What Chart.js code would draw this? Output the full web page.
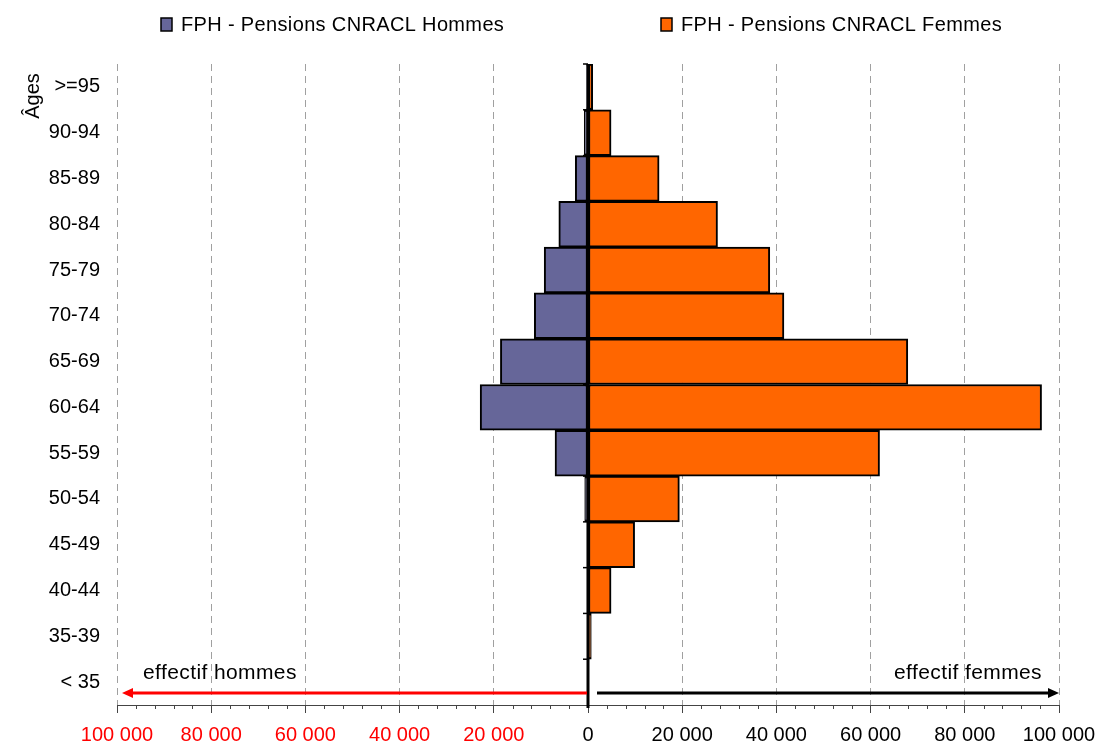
<!DOCTYPE html>
<html>
<head>
<meta charset="utf-8">
<script src="https://cdn.jsdelivr.net/npm/chart.js@4/dist/chart.umd.min.js"></script>
<style>
  body{margin:0;background:#fff;}
  #wrap{width:1100px;height:744px;position:relative;}
</style>
</head>
<body>
<div id="wrap"><canvas id="pyramid"></canvas></div>
<script>
/* ---------- DATA ---------- */
const ageGroups = [">=95","90-94","85-89","80-84","75-79","70-74","65-69","60-64","55-59","50-54","45-49","40-44","35-39","< 35"];
const hommes = [-300,-800,-2700,-6200,-9300,-11400,-18600,-22900,-7000,-700,-200,-200,-100,-100];
const femmes = [1000,4900,15100,27500,38600,41600,67900,96300,61900,19400,9900,4900,700,100];
const xTicks = [-100000,-80000,-60000,-40000,-20000,0,20000,40000,60000,80000,100000];
const seriesLabels = ["FPH - Pensions CNRACL Hommes","FPH - Pensions CNRACL Femmes"];
const seriesColors = ["#666699","#FF6600"];

Chart.defaults.font.family = "'Liberation Sans', Arial, sans-serif";
Chart.defaults.color = "#000";

/* ---------- HELPERS ---------- */
function fmt(v){
  return Math.abs(v).toString().replace(/\B(?=(\d{3})+(?!\d))/g," ");
}
function arrow(ctx,x1,x2,y,color){
  const dir = x2<x1 ? -1 : 1;
  ctx.save();
  ctx.strokeStyle=color; ctx.fillStyle=color; ctx.lineWidth=3;
  ctx.beginPath(); ctx.moveTo(x1,y); ctx.lineTo(x2-dir*10,y); ctx.stroke();
  ctx.beginPath(); ctx.moveTo(x2,y); ctx.lineTo(x2-dir*11,y-5); ctx.lineTo(x2-dir*11,y+5); ctx.closePath(); ctx.fill();
  ctx.restore();
}

/* ---------- EXTRAS (legend, axis at 0, arrows) ---------- */
const extras = {
  id:"extras",
  afterDatasetsDraw(chart){
    const {ctx, chartArea:a, scales:{x,y}} = chart;
    const x0 = x.getPixelForValue(0);

    // minor ticks on the x axis
    ctx.save();
    ctx.strokeStyle="#444"; ctx.lineWidth=1;
    for(let v=-100000; v<=100000; v+=4000){
      if(v%20000===0) continue;
      const px=Math.round(x.getPixelForValue(v))+0.5;
      ctx.beginPath(); ctx.moveTo(px,a.bottom); ctx.lineTo(px,a.bottom+4); ctx.stroke();
    }
    ctx.restore();

    // vertical axis at 0
    ctx.save();
    ctx.strokeStyle="#000"; ctx.lineWidth=3;
    ctx.beginPath(); ctx.moveTo(x0,a.top); ctx.lineTo(x0,a.bottom+3); ctx.stroke();
    ctx.lineWidth=1.5;
    const rowH=(a.bottom-a.top)/ageGroups.length;
    for(let i=0;i<ageGroups.length;i++){
      const py=a.top+i*rowH;
      ctx.beginPath(); ctx.moveTo(x0-5,py); ctx.lineTo(x0,py); ctx.stroke();
    }
    ctx.restore();

    // arrows + labels
    const ay=a.bottom-12;
    arrow(ctx,x0-1,x.getPixelForValue(-100000)+5,ay,"#FF0000");
    arrow(ctx,x0+9,x.getPixelForValue(100000),ay,"#000");
    ctx.save();
    ctx.font="21px 'Liberation Sans', Arial, sans-serif";
    ctx.letterSpacing="0.4px";
    ctx.fillStyle="#000"; ctx.textBaseline="middle";
    ctx.textAlign="left"; ctx.fillText("effectif hommes",143,a.bottom-32);
    ctx.textAlign="right"; ctx.fillText("effectif femmes",1042,a.bottom-32);
    ctx.restore();
  },
  afterDraw(chart){
    const {ctx} = chart;
    ctx.save();
    // legend
    ctx.font="20px 'Liberation Sans', Arial, sans-serif";
    ctx.letterSpacing="0.35px";
    ctx.textBaseline="middle"; ctx.textAlign="left";
    const legX=[161,661];
    seriesLabels.forEach((lab,i)=>{
      ctx.fillStyle=seriesColors[i];
      ctx.fillRect(legX[i],18,11,13);
      ctx.strokeStyle="#000"; ctx.lineWidth=1.5;
      ctx.strokeRect(legX[i],18,11,13);
      ctx.fillStyle="#000";
      ctx.fillText(lab,legX[i]+20,25);
    });
    // y axis title
    ctx.letterSpacing="0px";
    ctx.translate(33,96); ctx.rotate(-Math.PI/2);
    ctx.textAlign="center";
    ctx.fillText("Âges",0,0);
    ctx.restore();
  }
};

/* ---------- CHART ---------- */
new Chart(document.getElementById("pyramid"),{
  type:"bar",
  data:{
    labels:ageGroups,
    datasets:[
      {label:seriesLabels[0],data:hommes,backgroundColor:seriesColors[0]},
      {label:seriesLabels[1],data:femmes,backgroundColor:seriesColors[1]}
    ]
  },
  options:{
    indexAxis:"y",
    responsive:true,
    maintainAspectRatio:false,
    animation:false,
    layout:{padding:{top:64,right:41,left:0,bottom:0}},
    datasets:{bar:{barPercentage:1,categoryPercentage:1,borderColor:"#000",borderWidth:2,borderSkipped:false}},
    plugins:{legend:{display:false},tooltip:{enabled:false}},
    scales:{
      x:{
        stacked:true,
        min:-100000,max:100000,
        afterBuildTicks:s=>{ s.ticks=xTicks.map(v=>({value:v})); },
        afterFit:s=>{ s.height=39; s.paddingLeft=0; s.paddingRight=0; },
        ticks:{
          font:{size:20},
          padding:10,
          color:c=>c.tick && c.tick.value<0 ? "#FF0000" : "#000",
          callback:v=>fmt(v)
        },
        grid:{
          color:c=>c.tick && c.tick.value===0 ? "rgba(0,0,0,0)" : "#A0A0A0",
          tickColor:"#444",
          tickLength:8,
          drawTicks:true
        },
        border:{display:true,color:"#444",width:1,dash:[7,5]}
      },
      y:{
        stacked:true,
        afterFit:s=>{ s.width=117; },
        ticks:{font:{size:20},padding:17},
        grid:{display:false,drawTicks:false},
        border:{display:false}
      }
    }
  },
  plugins:[extras]
});
</script>
</body>
</html>
